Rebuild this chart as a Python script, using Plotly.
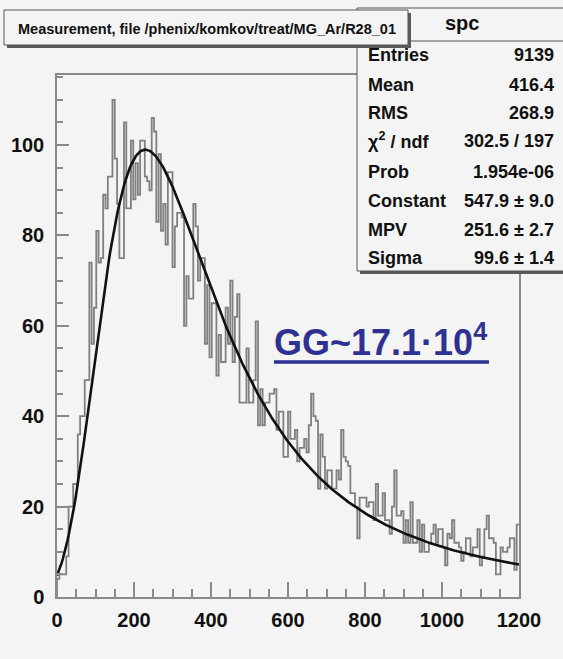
import numpy as np
import plotly.graph_objects as go

# ---------------- data ----------------
bin_width = 6
x_min, x_max = 0, 1200

counts = [
    4, 5, 5, 5, 9, 20, 20, 25, 25, 36,
    40, 40, 48, 48, 74, 56, 64, 81, 74, 75,
    89, 86, 93, 93, 110, 97, 87, 75, 75, 105,
    86, 86, 101, 88, 96, 89, 101, 101, 93, 92,
    90, 106, 103, 83, 98, 81, 87, 78, 94, 94,
    73, 82, 85, 85, 84, 60, 71, 66, 66, 87,
    82, 70, 75, 75, 56, 69, 53, 65, 65, 49,
    58, 52, 52, 64, 56, 70, 52, 62, 67, 43,
    43, 43, 55, 43, 43, 48, 61, 38, 46, 38,
    43, 43, 45, 45, 46, 37, 41, 41, 31, 31,
    41, 35, 35, 37, 30, 33, 33, 35, 32, 38,
    45, 40, 39, 24, 36, 31, 24, 28, 28, 24,
    24, 28, 26, 37, 31, 30, 29, 23, 23, 20,
    13, 22, 22, 22, 20, 21, 21, 17, 25, 18,
    18, 23, 17, 17, 14, 20, 28, 18, 18, 19,
    12, 17, 12, 21, 12, 12, 17, 10, 16, 10,
    10, 12, 14, 16, 12, 15, 15, 11, 7, 14,
    13, 17, 12, 12, 11, 8, 10, 13, 13, 9,
    11, 11, 15, 7, 9, 15, 18, 13, 13, 12,
    5, 5, 11, 10, 10, 11, 13, 13, 6, 16,
]

# Landau fit parameters
fit_constant = 547.9
fit_mpv = 251.6
fit_sigma = 99.6

hist_name = "spc"
title_text = "Measurement, file /phenix/komkov/treat/MG_Ar/R28_01"
stat_labels = ["Entries", "Mean", "RMS", "χ<sup>2</sup> / ndf", "Prob",
               "Constant", "MPV", "Sigma"]
stat_values = ["9139", "416.4", "268.9", "302.5 / 197", "1.954e-06",
               "547.9 ± 9.0", "251.6 ± 2.7", "99.6 ± 1.4"]
gain_label = "GG~17.1·10<sup>4</sup>"

x_tick_step, x_minor_step = 200, 50
y_tick_step, y_minor_step = 20, 5
y_top = 115.5

# ---------------- geometry ----------------
W, H = 563, 659
ML, MR, MT, MB = 57, 44, 75, 62
PW, PH = W - ML - MR, H - MT - MB

BG = "#f4f4f4"
FRAME = "#8a8a8a"
FONT = "Liberation Sans, Arial, Helvetica, sans-serif"
GAIN_COLOR = "#2e3192"


def px(x):
    return (x - ML) / PW


def py(y):
    return (H - MB - y) / PH


def landau_density(lam):
    """Landau density phi(lambda) by direct numerical integration."""
    t = np.linspace(0.0, 30.0, 60001)
    tt = t[1:]
    res = []
    for l in np.atleast_1d(lam):
        g = np.exp(-tt * np.log(tt) - l * tt) * np.sin(np.pi * tt)
        g = np.concatenate([[0.0], g])
        res.append(np.trapezoid(g, t) / np.pi)
    return np.array(res)


# histogram outline as steps over the bin edges
counts_arr = np.asarray(counts, dtype=float)
edges = x_min + bin_width * np.arange(len(counts_arr) + 1)
step_x = np.concatenate([[edges[0]], edges])
step_y = np.concatenate([[0.0], counts_arr, [counts_arr[-1]]])

# fitted curve
fx = np.linspace(x_min, x_max, 400)
fy = fit_constant * landau_density((fx - fit_mpv) / fit_sigma)

fig = go.Figure()
fig.add_trace(go.Scatter(
    x=step_x, y=step_y, mode="lines", line_shape="hv",
    line=dict(color="#808080", width=1.8), hoverinfo="skip"))
fig.add_trace(go.Scatter(
    x=fx, y=fy, mode="lines",
    line=dict(color="#111111", width=2.6), hoverinfo="skip"))

axis_common = dict(
    showgrid=False, zeroline=False, showline=True, mirror=True,
    linecolor=FRAME, linewidth=1.5,
    ticks="inside", tickcolor=FRAME, tickwidth=1.5,
    tickfont=dict(family=FONT, size=20, color="#111111", weight="bold"),
)
fig.update_xaxes(range=[x_min, x_max], tick0=0, dtick=x_tick_step, ticklen=15,
                 minor=dict(ticks="inside", dtick=x_minor_step, ticklen=8,
                            tickcolor=FRAME, tickwidth=1.5),
                 ticklabelstandoff=4, **axis_common)
fig.update_yaxes(range=[0, y_top], tick0=0, dtick=y_tick_step, ticklen=12,
                 minor=dict(ticks="inside", dtick=y_minor_step, ticklen=6,
                            tickcolor=FRAME, tickwidth=1.5),
                 ticklabelstandoff=7, **axis_common)

shapes = []
# statistics box (shadow, body, separator under the name)
shapes.append(dict(type="rect", xref="paper", yref="paper", layer="above",
                   x0=px(360), x1=px(570), y0=py(274), y1=py(11),
                   fillcolor="#5a5a5a", line=dict(width=0)))
shapes.append(dict(type="rect", xref="paper", yref="paper", layer="above",
                   x0=px(357), x1=px(566), y0=py(271), y1=py(8),
                   fillcolor=BG, line=dict(color="#555555", width=1)))
shapes.append(dict(type="line", xref="paper", yref="paper", layer="above",
                   x0=px(357), x1=px(566), y0=py(41), y1=py(41),
                   line=dict(color="#555555", width=1)))
# title box (shadow, body)
shapes.append(dict(type="rect", xref="paper", yref="paper", layer="above",
                   x0=px(7), x1=px(411), y0=py(48), y1=py(13),
                   fillcolor="#5a5a5a", line=dict(width=0)))
shapes.append(dict(type="rect", xref="paper", yref="paper", layer="above",
                   x0=px(4), x1=px(408), y0=py(45), y1=py(10),
                   fillcolor=BG, line=dict(color="#555555", width=1)))
# underline of the gain label, running under the exponent too
shapes.append(dict(type="line", xref="paper", yref="paper", layer="above",
                   x0=px(274), x1=px(489), y0=py(362), y1=py(362),
                   line=dict(color=GAIN_COLOR, width=3.5)))

annotations = []
annotations.append(dict(text=title_text, xref="paper", yref="paper",
                        x=px(207), y=py(29), showarrow=False,
                        xanchor="center", yanchor="middle",
                        font=dict(family=FONT, size=14.5, color="#111111",
                                  weight="bold")))
annotations.append(dict(text=hist_name, xref="paper", yref="paper",
                        x=px(462), y=py(23), showarrow=False,
                        xanchor="center", yanchor="middle",
                        font=dict(family=FONT, size=20, color="#111111",
                                  weight="bold")))
row_y = [55, 84.5, 113, 141, 171.5, 200.5, 229.5, 257.5]
for lab, val, ry in zip(stat_labels, stat_values, row_y):
    annotations.append(dict(text=lab, xref="paper", yref="paper",
                            x=px(366), y=py(ry), showarrow=False,
                            xanchor="left", yanchor="middle",
                            font=dict(family=FONT, size=18, color="#111111",
                                      weight="bold")))
    annotations.append(dict(text=val, xref="paper", yref="paper",
                            x=px(556), y=py(ry), showarrow=False,
                            xanchor="right", yanchor="middle",
                            font=dict(family=FONT, size=18, color="#111111",
                                      weight="bold")))
annotations.append(dict(text=gain_label, xref="paper",
                        yref="paper", x=px(272), y=py(340), showarrow=False,
                        xanchor="left", yanchor="middle",
                        font=dict(family=FONT, size=36, color=GAIN_COLOR,
                                  weight="bold")))

fig.update_layout(
    width=W, height=H,
    margin=dict(l=ML, r=MR, t=MT, b=MB, pad=0),
    paper_bgcolor=BG, plot_bgcolor=BG,
    showlegend=False,
    shapes=shapes, annotations=annotations,
)

fig.write_html("out.html")
